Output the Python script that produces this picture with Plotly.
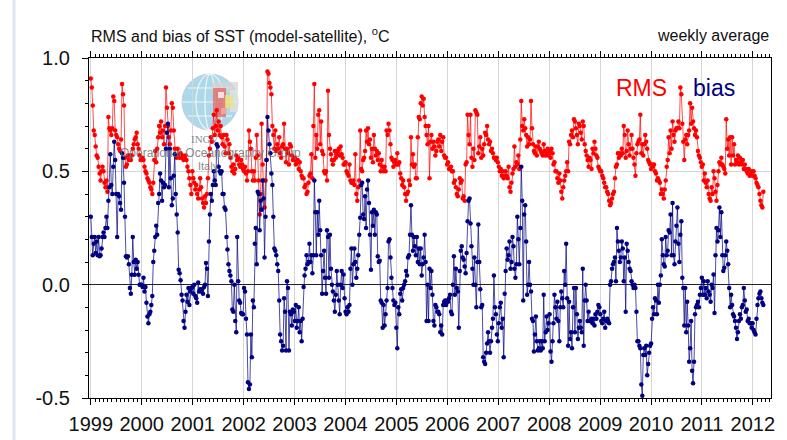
import pandas as pd
import plotly.graph_objects as go

# Weekly RMS of SST difference (model - satellite), degC, one list per year
rms_1999 = [0.91, 0.87, 0.79, 0.68, 0.66, 0.61, 0.57, 0.56, 0.52, 0.49, 0.46, 0.50, 0.52, 0.50, 0.45, 0.43, 0.46, 0.41, 0.74, 0.69,
            0.68, 0.66, 0.69, 0.83, 0.81, 0.68, 0.66, 0.65, 0.62, 0.60, 0.59, 0.64, 0.885, 0.84, 0.79, 0.56, 0.52, 0.53, 0.57, 0.55,
            0.57, 0.55, 0.57, 0.60, 0.62, 0.64, 0.65, 0.67, 0.62, 0.60, 0.57, 0.55]
rms_2000 = [0.55, 0.56, 0.55, 0.52, 0.50, 0.49, 0.47, 0.46, 0.45, 0.43, 0.42, 0.40, 0.45, 0.55, 0.59, 0.54, 0.60, 0.65, 0.70, 0.67,
            0.72, 0.65, 0.68, 0.62, 0.70, 0.87, 0.78, 0.70, 0.65, 0.62, 0.68, 0.80, 0.78, 0.68, 0.60, 0.57, 0.56, 0.60, 0.57, 0.56,
            0.58, 0.56, 0.57, 0.55, 0.56, 0.57, 0.55, 0.52, 0.50, 0.47, 0.44, 0.40]
rms_2001 = [0.50, 0.47, 0.45, 0.42, 0.44, 0.40, 0.38, 0.42, 0.47, 0.43, 0.38, 0.36, 0.34, 0.39, 0.36, 0.40, 0.47, 0.57, 0.60, 0.65,
            0.63, 0.69, 0.75, 0.66, 0.70, 0.77, 0.68, 0.72, 0.66, 0.70, 0.65, 0.62, 0.66, 0.61, 0.58, 0.66, 0.64, 0.58, 0.62, 0.56,
            0.52, 0.50, 0.53, 0.49, 0.51, 0.57, 0.55, 0.56, 0.53, 0.52, 0.55, 0.53]
rms_2002 = [0.51, 0.50, 0.52, 0.49, 0.46, 0.50, 0.68, 0.63, 0.60, 0.50, 0.46, 0.50, 0.46, 0.56, 0.66, 0.57, 0.46, 0.31, 0.40, 0.71,
            0.53, 0.46, 0.34, 0.46, 0.55, 0.94, 0.93, 0.89, 0.87, 0.84, 0.70, 0.66, 0.60, 0.68, 0.59, 0.62, 0.60, 0.65, 0.58, 0.56,
            0.61, 0.62, 0.71, 0.60, 0.54, 0.60, 0.58, 0.53, 0.62, 0.61, 0.57, 0.55]
rms_2003 = [0.55, 0.56, 0.53, 0.54, 0.55, 0.51, 0.54, 0.50, 0.48, 0.47, 0.47, 0.43, 0.44, 0.40, 0.41, 0.45, 0.48, 0.49, 0.575, 0.47,
            0.70, 0.885, 0.56, 0.66, 0.60, 0.75, 0.77, 0.62, 0.72, 0.59, 0.575, 0.50, 0.49, 0.50, 0.46, 0.855, 0.66, 0.60, 0.575, 0.55,
            0.53, 0.55, 0.59, 0.56, 0.575, 0.59, 0.60, 0.57, 0.61, 0.575, 0.56, 0.53]
rms_2004 = [0.53, 0.54, 0.50, 0.49, 0.48, 0.53, 0.46, 0.45, 0.45, 0.46, 0.44, 0.575, 0.40, 0.37, 0.43, 0.46, 0.68, 0.51, 0.50, 0.55,
            0.56, 0.59, 0.68, 0.63, 0.69, 0.62, 0.64, 0.56, 0.60, 0.54, 0.66, 0.60, 0.57, 0.59, 0.55, 0.58, 0.53, 0.50, 0.55, 0.52,
            0.50, 0.52, 0.50, 0.68, 0.66, 0.71, 0.68, 0.62, 0.56, 0.55, 0.52, 0.54]
rms_2005 = [0.55, 0.53, 0.58, 0.53, 0.54, 0.49, 0.47, 0.44, 0.46, 0.43, 0.40, 0.37, 0.40, 0.41, 0.46, 0.44, 0.65, 0.53, 0.575, 0.52,
            0.53, 0.47, 0.47, 0.65, 0.74, 0.73, 0.80, 0.83, 0.79, 0.82, 0.74, 0.70, 0.66, 0.62, 0.70, 0.47, 0.63, 0.66, 0.60, 0.63,
            0.61, 0.57, 0.59, 0.63, 0.64, 0.61, 0.66, 0.59, 0.63, 0.65, 0.57, 0.56]
rms_2006 = [0.56, 0.53, 0.54, 0.51, 0.51, 0.52, 0.50, 0.50, 0.45, 0.46, 0.43, 0.40, 0.39, 0.42, 0.47, 0.45, 0.46, 0.38, 0.39, 0.37,
            0.53, 0.54, 0.75, 0.66, 0.62, 0.75, 0.56, 0.52, 0.60, 0.55, 0.77, 0.76, 0.75, 0.58, 0.61, 0.65, 0.56, 0.60, 0.57, 0.62,
            0.67, 0.66, 0.70, 0.64, 0.62, 0.63, 0.59, 0.60, 0.58, 0.56, 0.56, 0.55]
rms_2007 = [0.56, 0.54, 0.52, 0.50, 0.51, 0.48, 0.50, 0.47, 0.48, 0.50, 0.48, 0.47, 0.52, 0.43, 0.41, 0.45, 0.49, 0.51, 0.61, 0.52,
            0.54, 0.53, 0.57, 0.51, 0.64, 0.81, 0.70, 0.68, 0.73, 0.69, 0.66, 0.61, 0.65, 0.62, 0.64, 0.81, 0.69, 0.62, 0.59, 0.58,
            0.61, 0.57, 0.61, 0.63, 0.60, 0.59, 0.58, 0.57, 0.62, 0.59, 0.57, 0.58]
rms_2008 = [0.60, 0.57, 0.59, 0.56, 0.60, 0.58, 0.53, 0.54, 0.50, 0.50, 0.47, 0.45, 0.49, 0.46, 0.41, 0.38, 0.43, 0.46, 0.48, 0.50,
            0.54, 0.50, 0.63, 0.62, 0.66, 0.68, 0.65, 0.73, 0.72, 0.69, 0.66, 0.62, 0.71, 0.70, 0.67, 0.64, 0.72, 0.70, 0.62, 0.59,
            0.57, 0.55, 0.52, 0.56, 0.55, 0.51, 0.60, 0.58, 0.63, 0.60, 0.57, 0.56]
rms_2009 = [0.52, 0.51, 0.50, 0.50, 0.48, 0.47, 0.45, 0.43, 0.43, 0.41, 0.40, 0.37, 0.35, 0.36, 0.38, 0.40, 0.41, 0.47, 0.52, 0.53,
            0.58, 0.56, 0.58, 0.57, 0.60, 0.58, 0.70, 0.66, 0.56, 0.59, 0.68, 0.62, 0.57, 0.60, 0.66, 0.60, 0.56, 0.53, 0.48, 0.58,
            0.62, 0.63, 0.64, 0.75, 0.58, 0.62, 0.57, 0.62, 0.66, 0.63, 0.60, 0.55]
rms_2010 = [0.54, 0.53, 0.51, 0.53, 0.52, 0.53, 0.50, 0.49, 0.46, 0.47, 0.46, 0.45, 0.40, 0.42, 0.40, 0.38, 0.42, 0.46, 0.52, 0.55,
            0.65, 0.58, 0.68, 0.60, 0.72, 0.66, 0.63, 0.68, 0.69, 0.69, 0.72, 0.69, 0.87, 0.84, 0.71, 0.63, 0.55, 0.64, 0.66, 0.62,
            0.66, 0.68, 0.80, 0.71, 0.78, 0.72, 0.69, 0.66, 0.68, 0.65, 0.59, 0.57]
rms_2011 = [0.56, 0.54, 0.52, 0.53, 0.46, 0.49, 0.45, 0.43, 0.46, 0.40, 0.38, 0.37, 0.43, 0.40, 0.50, 0.47, 0.41, 0.37, 0.44, 0.50,
            0.54, 0.53, 0.56, 0.53, 0.52, 0.51, 0.49, 0.73, 0.60, 0.64, 0.57, 0.65, 0.53, 0.65, 0.57, 0.62, 0.53, 0.55, 0.54, 0.57,
            0.53, 0.56, 0.54, 0.53, 0.55, 0.51, 0.53, 0.51, 0.50, 0.49, 0.51, 0.48]
rms_2012 = [0.49, 0.50, 0.48, 0.50, 0.48, 0.47, 0.45, 0.44, 0.43, 0.40, 0.37, 0.35, 0.34, 0.41]

# Weekly bias of SST (model - satellite), degC, one list per year
bias_1999 = [0.30, 0.21, 0.13, 0.18, 0.21, 0.14, 0.19, 0.13, 0.21, 0.125, 0.13, 0.16, 0.21, 0.23, 0.21, 0.25, 0.30, 0.25, 0.37, 0.43,
             0.575, 0.44, 0.40, 0.52, 0.63, 0.55, 0.40, 0.21, 0.40, 0.39, 0.36, 0.33, 0.58, 0.56, 0.45, 0.30, 0.125, 0.12, 0.125, 0.09,
             -0.015, -0.04, 0.044, 0.21, 0.10, 0.044, 0.11, 0.07, 0.10, 0.044, 0.0, 0.0]
bias_2000 = [0.0, -0.01, 0.03, -0.03, -0.01, -0.08, -0.14, -0.17, -0.13, -0.12, -0.09, -0.05, 0.10, 0.15, 0.21, 0.26, 0.22, 0.36, 0.40, 0.49,
             0.46, 0.37, 0.45, 0.43, 0.44, 0.60, 0.67, 0.71, 0.43, 0.60, 0.47, 0.35, 0.38, 0.48, 0.575, 0.40, 0.31, 0.23, 0.066, 0.05,
             0.02, -0.045, -0.07, -0.16, -0.19, -0.12, -0.045, -0.075, -0.015, -0.09, -0.03, -0.015]
bias_2001 = [-0.01, -0.04, 0.0, -0.05, -0.06, -0.08, 0.01, -0.03, -0.02, -0.03, -0.02, -0.04, -0.01, 0.0, 0.096, 0.07, -0.05, 0.19, 0.31, 0.40,
             0.37, 0.44, 0.50, 0.46, 0.44, 0.62, 0.61, 0.52, 0.50, 0.49, 0.50, 0.40, 0.40, 0.34, 0.33, 0.21, 0.155, 0.09, 0.06, 0.04,
             0.015, -0.11, -0.12, 0.0, -0.16, -0.21, 0.21, 0.015, -0.07, -0.08, -0.125, -0.13]
bias_2002 = [-0.13, -0.015, -0.03, -0.15, -0.22, -0.43, -0.46, -0.44, -0.22, -0.32, -0.07, -0.10, 0.18, 0.25, 0.09, 0.41, 0.40, 0.24, 0.37, 0.33,
             0.46, 0.38, 0.12, 0.30, 0.55, 0.74, 0.68, 0.62, 0.58, 0.49, 0.44, 0.30, 0.16, 0.15, 0.13, 0.09, 0.06, -0.07, -0.22, -0.25,
             -0.29, -0.27, -0.06, -0.12, -0.29, 0.015, -0.015, -0.29, -0.12, -0.13, -0.18, -0.11]
bias_2003 = [-0.12, -0.16, -0.09, -0.19, -0.16, -0.10, -0.21, -0.16, -0.25, -0.15, -0.01, 0.04, 0.07, 0.13, 0.09, 0.10, 0.18, 0.10, 0.13, 0.05,
             0.13, 0.46, 0.32, 0.13, 0.32, 0.22, 0.37, 0.24, 0.13, -0.04, 0.06, 0.15, 0.03, -0.04, 0.24, 0.21, 0.03, 0.22, 0.07, 0.0,
             -0.03, -0.07, -0.12, -0.045, 0.06, 0.0, -0.07, -0.13, 0.0, 0.06, -0.015, 0.045]
bias_2004 = [-0.06, -0.12, -0.13, -0.10, -0.12, -0.09, 0.07, 0.16, 0.0, 0.09, 0.16, 0.10, 0.03, 0.07, 0.13, 0.22, 0.295, 0.44, 0.45, 0.31,
             0.29, 0.39, 0.25, 0.42, 0.46, 0.36, 0.22, 0.066, 0.32, 0.26, 0.33, 0.22, 0.32, 0.31, 0.125, 0.10, 0.105, -0.07, -0.08, -0.19,
             -0.09, -0.18, -0.13, -0.07, -0.015, 0.19, 0.20, 0.12, 0.03, -0.015, -0.07, -0.09]
bias_2005 = [-0.08, -0.19, -0.28, -0.10, -0.13, -0.04, -0.02, -0.07, -0.015, 0.0, 0.015, 0.06, 0.04, 0.12, 0.13, 0.22, 0.35, 0.22, 0.15, 0.21,
             0.17, 0.13, 0.21, 0.10, 0.16, 0.09, 0.16, 0.04, 0.09, 0.12, 0.22, 0.10, -0.16, 0.0, -0.16, 0.07, -0.015, 0.06, -0.045, -0.16,
             -0.18, -0.09, -0.10, -0.12, -0.12, -0.13, -0.21, -0.18, -0.22, -0.09, -0.075, -0.07]
bias_2006 = [-0.09, -0.07, -0.075, -0.06, -0.045, -0.12, -0.13, 0.0, 0.125, -0.045, 0.07, -0.015, -0.03, -0.19, 0.06, 0.15, 0.17, 0.12, 0.11, 0.08,
             0.05, 0.14, 0.28, 0.37, 0.38, 0.27, 0.17, 0.07, 0.0, 0.12, 0.0, -0.10, 0.10, 0.265, 0.10, -0.02, -0.10, -0.09, -0.32, -0.34,
             -0.35, -0.30, -0.26, -0.21, -0.25, -0.30, -0.25, -0.19, -0.15, 0.04, -0.10, -0.13]
bias_2007 = [-0.22, -0.25, -0.17, -0.10, -0.08, -0.19, -0.15, -0.32, -0.04, 0.06, 0.16, 0.11, 0.13, 0.19, 0.07, 0.10, 0.21, 0.17, 0.07, 0.03,
             0.09, 0.30, 0.20, 0.09, 0.25, 0.52, 0.37, -0.07, 0.31, 0.35, 0.19, -0.045, 0.0, 0.10, 0.0, -0.03, -0.15, -0.16, -0.295, -0.22,
             -0.14, -0.25, -0.29, -0.28, -0.25, -0.29, -0.25, -0.28, -0.045, -0.25, -0.21, -0.14]
bias_2008 = [-0.20, -0.17, -0.13, -0.295, -0.34, -0.25, -0.17, -0.045, -0.10, -0.15, -0.075, -0.16, -0.25, -0.10, -0.03, -0.06, -0.10, 0.06, 0.0, 0.18,
             -0.06, -0.27, -0.075, -0.24, -0.21, -0.28, -0.10, -0.015, -0.21, -0.015, -0.13, -0.24, -0.19, -0.16, -0.19, -0.21, 0.07, -0.27, -0.07, 0.0,
             -0.07, -0.16, -0.12, -0.16, -0.16, -0.15, -0.17, -0.15, -0.18, -0.13, -0.15, -0.12]
bias_2009 = [-0.09, -0.10, -0.13, -0.16, -0.17, -0.15, -0.12, -0.19, -0.16, -0.15, -0.16, -0.17, 0.0, 0.015, 0.07, 0.09, 0.10, 0.12, 0.015, 0.25,
             0.19, 0.15, 0.10, 0.12, 0.19, 0.16, 0.015, 0.12, -0.12, 0.18, 0.15, 0.10, 0.07, 0.06, 0.015, 0.0, -0.015, 0.0, -0.015, -0.12,
             -0.25, -0.25, -0.27, -0.28, -0.44, -0.49, -0.31, -0.28, -0.31, -0.27, -0.40, -0.35]
bias_2010 = [-0.30, -0.27, -0.26, -0.15, -0.10, -0.13, -0.06, -0.07, -0.13, 0.0, -0.08, 0.0, 0.04, 0.20, 0.13, 0.09, 0.08, 0.21, 0.13, 0.15,
             0.24, 0.23, 0.31, 0.13, 0.36, 0.13, 0.09, 0.19, 0.26, 0.34, 0.18, 0.10, 0.22, 0.28, 0.03, -0.015, -0.18, -0.015, -0.21, -0.075,
             -0.18, -0.34, -0.28, -0.16, -0.38, -0.435, -0.34, -0.13, -0.10, -0.09, -0.075, -0.10]
bias_2011 = [-0.045, -0.015, 0.03, -0.045, 0.015, -0.045, -0.015, -0.06, 0.015, -0.03, -0.045, -0.075, 0.0, -0.015, 0.045, -0.125, 0.13, 0.25, 0.19, 0.24,
             0.34, 0.21, 0.32, 0.13, 0.06, 0.075, 0.13, 0.19, 0.15, 0.09, -0.015, -0.10, -0.045, -0.09, -0.13, -0.14, -0.16, -0.19, -0.24, -0.21,
             -0.16, -0.13, -0.15, -0.10, -0.09, -0.015, -0.07, -0.12, -0.11, -0.16, -0.15, -0.17]
bias_2012 = [-0.17, -0.19, -0.17, -0.20, -0.21, -0.22, -0.15, -0.09, -0.06, -0.04, -0.03, -0.06, -0.08, -0.09]

year_ticks = ["1999", "2000", "2001", "2002", "2003", "2004", "2005", "2006",
              "2007", "2008", "2009", "2010", "2011", "2012"]
y_ticks = [-0.5, 0.0, 0.5, 1.0]

rms = (rms_1999 + rms_2000 + rms_2001 + rms_2002 + rms_2003 + rms_2004 + rms_2005 +
       rms_2006 + rms_2007 + rms_2008 + rms_2009 + rms_2010 + rms_2011 + rms_2012)
bias = (bias_1999 + bias_2000 + bias_2001 + bias_2002 + bias_2003 + bias_2004 + bias_2005 +
        bias_2006 + bias_2007 + bias_2008 + bias_2009 + bias_2010 + bias_2011 + bias_2012)
weeks = pd.date_range("1999-01-01", periods=len(rms), freq="7D")

FONT = "Liberation Sans, Arial, Helvetica, sans-serif"
RED = "#ff0000"
NAVY = "#000080"

X_RANGE = [pd.Timestamp("1998-12-19"), pd.Timestamp("2012-05-10")]
Y_RANGE = [-0.5, 1.0]

# plot-area geometry in pixels, used to place decorations
L, R, T, B = 89, 771, 58, 398


def px(x):
    return (x - L) / (R - L)


def py(y):
    return (B - y) / (B - T)


fig = go.Figure()
fig.add_trace(go.Scatter(
    x=weeks, y=rms, mode="lines+markers", name="RMS",
    line=dict(color=RED, width=0.7),
    marker=dict(color=RED, size=4.5, line=dict(width=0)),
))
fig.add_trace(go.Scatter(
    x=weeks, y=bias, mode="lines+markers", name="bias",
    line=dict(color=NAVY, width=0.7),
    marker=dict(color=NAVY, size=4.5, line=dict(width=0)),
))

shapes = []
# thin pale page rule at the far left
shapes.append(dict(type="line", xref="paper", yref="paper",
                   x0=px(14), x1=px(14), y0=py(440), y1=py(0),
                   line=dict(color="#dde5ee", width=3), layer="below"))
# INGV globe logo (faint, behind the data)
shapes.append(dict(type="circle", xref="paper", yref="paper",
                   x0=px(182), x1=px(238), y0=py(130), y1=py(74),
                   fillcolor="#9fd2e6", line=dict(color="#b8c8d0", width=1),
                   opacity=0.85, layer="below"))
for (a, b) in [(196, 224), (205, 215)]:
    shapes.append(dict(type="circle", xref="paper", yref="paper",
                       x0=px(a), x1=px(b), y0=py(130), y1=py(74),
                       line=dict(color="white", width=1.2), layer="below", opacity=0.8))
for (yy, a, b) in [(102, 182, 238), (88, 188, 232), (116, 188, 232)]:
    shapes.append(dict(type="line", xref="paper", yref="paper",
                       x0=px(a), x1=px(b), y0=py(yy), y1=py(yy),
                       line=dict(color="white", width=1.2), layer="below", opacity=0.8))
for (x0, x1, y0, y1, c) in [(212, 238, 82, 92, "#d4d4d4"), (230, 238, 90, 112, "#e4e4e4"),
                            (213, 226, 88, 117, "#e8625c"), (225, 233, 95, 108, "#f1e36a"),
                            (218, 224, 92, 98, "#ffffff"), (221, 227, 108, 114, "#f0b0a8")]:
    shapes.append(dict(type="rect", xref="paper", yref="paper",
                       x0=px(x0), x1=px(x1), y0=py(y1), y1=py(y0),
                       fillcolor=c, line=dict(width=0), opacity=0.75, layer="below"))

WM = "rgba(105,105,105,0.8)"
annotations = [
    dict(text="RMS and bias of SST (model-satellite), <sup>o</sup>C", xref="paper", yref="paper",
         x=0, y=py(35), xanchor="left", yanchor="middle", showarrow=False,
         font=dict(family=FONT, size=16, color="#111111")),
    dict(text="weekly average", xref="paper", yref="paper",
         x=1, y=py(35), xanchor="right", yanchor="middle", showarrow=False,
         font=dict(family=FONT, size=16, color="#111111")),
    dict(text="RMS", xref="paper", yref="paper", x=px(641), y=py(88),
         xanchor="center", yanchor="middle", showarrow=False,
         font=dict(family=FONT, size=23, color=RED)),
    dict(text="bias", xref="paper", yref="paper", x=px(714), y=py(88),
         xanchor="center", yanchor="middle", showarrow=False,
         font=dict(family=FONT, size=23, color=NAVY)),
    # faint caption of the logo
    dict(text="INGV", xref="paper", yref="paper", x=px(205), y=py(139),
         xanchor="center", yanchor="middle", showarrow=False,
         font=dict(family="Liberation Serif, serif", size=11, color=WM)),
    dict(text="Operational Oceanography Group", xref="paper", yref="paper", x=px(210), y=py(153),
         xanchor="center", yanchor="middle", showarrow=False,
         font=dict(family=FONT, size=12, color=WM)),
    dict(text="Italy", xref="paper", yref="paper", x=px(208), y=py(166),
         xanchor="center", yanchor="middle", showarrow=False,
         font=dict(family=FONT, size=11, color=WM)),
]

fig.update_layout(
    width=787, height=440,
    margin=dict(l=L, r=787 - R, t=T, b=440 - B, autoexpand=False),
    paper_bgcolor="white", plot_bgcolor="white",
    showlegend=False,
    shapes=shapes, annotations=annotations,
    font=dict(family=FONT, size=20, color="#111111"),
)
fig.update_xaxes(
    type="date", range=X_RANGE, automargin=False,
    tickmode="array", tickvals=[f"{y}-01-01" for y in year_ticks], ticktext=year_ticks,
    ticks="outside", ticklen=6, tickwidth=1, tickcolor="black",
    showline=True, linecolor="black", linewidth=1.3, mirror="allticks",
    showgrid=True, gridcolor="#d6d6d6", gridwidth=1,
    minor=dict(dtick="M1", tick0="1999-01-01", ticks="outside", ticklen=3, tickcolor="black", tickwidth=0.8, showgrid=False),
    tickfont=dict(family=FONT, size=20, color="#111111"),
    ticklabelstandoff=2,
)
fig.update_yaxes(
    range=Y_RANGE, automargin=False,
    tickmode="array", tickvals=y_ticks, ticktext=[f"{v:.1f}" for v in y_ticks],
    ticks="outside", ticklen=6, tickwidth=1, tickcolor="black",
    showline=True, linecolor="black", linewidth=1.3, mirror=True,
    showgrid=True, gridcolor="#d6d6d6", gridwidth=1,
    zeroline=True, zerolinecolor="#222222", zerolinewidth=1.3,
    minor=dict(dtick=0.1, tick0=0, ticks="outside", ticklen=3, tickcolor="black", tickwidth=0.8, showgrid=False),
    tickfont=dict(family=FONT, size=20, color="#111111"),
    ticklabelstandoff=8,
)

fig.write_html("out.html")
